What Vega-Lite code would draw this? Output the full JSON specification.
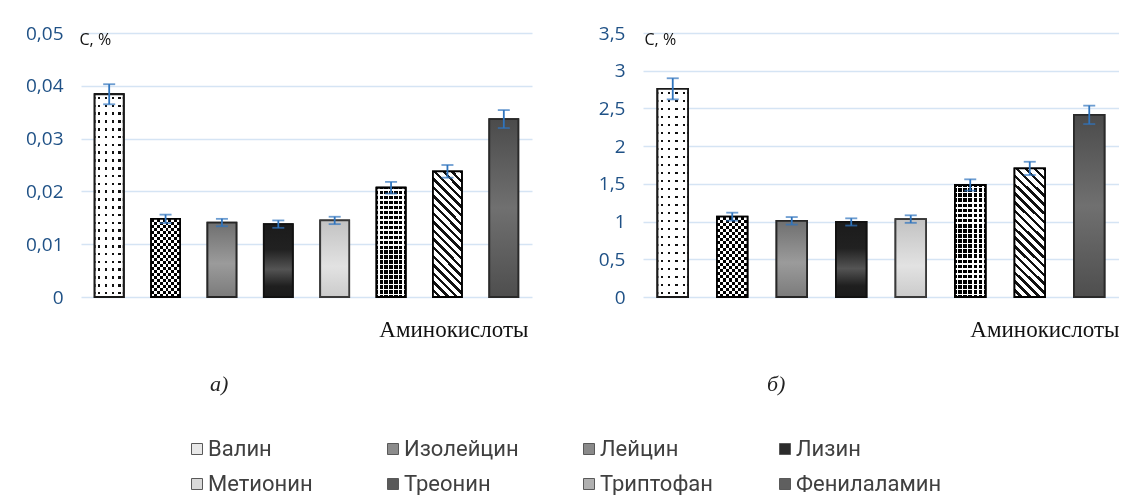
{
  "$schema": "https://vega.github.io/schema/vega-lite/v6.json",
  "background": "white",
  "padding": {"left": 25, "top": 24, "right": 0, "bottom": 0},
  "spacing": 66,
  "datasets": {
    "fat": [
      {"amino": "Валин", "value": 0.0384, "err": 0.0019},
      {"amino": "Изолейцин", "value": 0.0148, "err": 0.0008},
      {"amino": "Лейцин", "value": 0.0141, "err": 0.0007},
      {"amino": "Лизин", "value": 0.0138, "err": 0.0007},
      {"amino": "Метионин", "value": 0.0145, "err": 0.0007},
      {"amino": "Треонин", "value": 0.0207, "err": 0.0011},
      {"amino": "Триптофан", "value": 0.0238, "err": 0.0012},
      {"amino": "Фенилаламин", "value": 0.0337, "err": 0.0017}
    ],
    "protein": [
      {"amino": "Валин", "value": 2.76, "err": 0.14},
      {"amino": "Изолейцин", "value": 1.065, "err": 0.053},
      {"amino": "Лейцин", "value": 1.01, "err": 0.05},
      {"amino": "Лизин", "value": 0.995, "err": 0.048},
      {"amino": "Метионин", "value": 1.033, "err": 0.05},
      {"amino": "Треонин", "value": 1.485, "err": 0.075},
      {"amino": "Триптофан", "value": 1.705, "err": 0.088},
      {"amino": "Фенилаламин", "value": 2.415, "err": 0.122}
    ]
  },
  "config": {"view": {"stroke": null}},
  "resolve": {"scale": {"fill": "shared"}},
  "hconcat": [
    {
      "width": 451,
      "height": 264,
      "data": {"name": "fat"},
      "title": {"text": "а)", "orient": "bottom", "anchor": "start", "frame": "group", "dx": 129, "offset": 33, "font": "Liberation Serif", "fontStyle": "italic", "fontWeight": "normal", "fontSize": 22, "color": "#222222"},
      "encoding": {
        "x": {"field": "amino", "type": "nominal", "sort": null,
              "scale": {"domain": ["Валин", "Изолейцин", "Лейцин", "Лизин", "Метионин", "Треонин", "Триптофан", "Фенилаламин"], "paddingInner": 0.486, "paddingOuter": 0.243},
              "axis": {"labels": false, "ticks": false, "domain": false, "title": "Аминокислоты", "titleFont": "Liberation Serif", "titleFontSize": 23, "titleFontWeight": "normal", "titleColor": "#111111", "titleAlign": "right", "titleBaseline": "alphabetic", "titleX": 447, "titleY": 39}},
        "y": {"field": "value", "type": "quantitative",
              "scale": {"domain": [0, 0.05], "nice": false},
              "axis": {"values": [0, 0.01, 0.02, 0.03, 0.04, 0.05], "labelExpr": "replace(toString(datum.value), '.', ',')", "labelFont": "Open Sans", "labelFontSize": 19, "labelColor": "#1f5186", "labelPadding": 18, "ticks": false, "domain": false, "grid": true, "gridColor": "#d5e4f4", "gridWidth": 1.6, "title": "C, %", "titleAngle": 0, "titleX": -2, "titleY": 6, "titleAlign": "left", "titleBaseline": "middle", "titleFont": "Open Sans", "titleFontSize": 16, "titleFontWeight": "normal", "titleColor": "#111111"}}
      },
      "layer": [
        {
          "mark": {"type": "bar", "stroke": "#1a1a1a", "strokeWidth": 1.8},
          "encoding": {
            "fill": {"field": "amino", "type": "nominal",
              "scale": {"domain": ["Валин", "Изолейцин", "Лейцин", "Лизин", "Метионин", "Треонин", "Триптофан", "Фенилаламин"],
                        "range": ["#e8e8e8", "#8c8c8c", "#8a8a8a", "#2b2b2b", "#d9d9d9", "#5a5a5a", "#b0b0b0", "#5f5f5f"]},
              "legend": {"orient": "none", "legendX": 105, "legendY": 405, "direction": "horizontal", "columns": 4, "gridAlign": "all", "columnPadding": 28, "rowPadding": 13, "title": null, "padding": 0,
                         "symbolType": "square", "symbolSize": 121, "symbolStrokeColor": "#595959", "symbolStrokeWidth": 1,
                         "labelFont": "Roboto", "labelFontSize": 22, "labelColor": "#404040", "labelOffset": 0, "labelLimit": 300}}
          }
        },
        {
          "transform": [{"filter": "datum.amino === 'Валин'"}],
          "mark": {"type": "bar", "stroke": "#1a1a1a", "strokeWidth": 1.8,
                   "fill": {"gradient": "linear", "x1": 0, "y1": 0, "x2": 1, "y2": 0, "stops": [
                    {"offset": 0.1, "color": "#ffffff"}, {"offset": 0.1, "color": "#111111"}, {"offset": 0.18, "color": "#111111"}, {"offset": 0.18, "color": "#ffffff"},
                    {"offset": 0.34, "color": "#ffffff"}, {"offset": 0.34, "color": "#111111"}, {"offset": 0.42, "color": "#111111"}, {"offset": 0.42, "color": "#ffffff"},
                    {"offset": 0.58, "color": "#ffffff"}, {"offset": 0.58, "color": "#111111"}, {"offset": 0.66, "color": "#111111"}, {"offset": 0.66, "color": "#ffffff"},
                    {"offset": 0.82, "color": "#ffffff"}, {"offset": 0.82, "color": "#111111"}, {"offset": 0.9, "color": "#111111"}, {"offset": 0.9, "color": "#ffffff"}]}}
        },
        {
          "transform": [{"filter": "datum.amino === 'Валин'"}],
          "mark": {"type": "bar", "stroke": "#1a1a1a", "strokeWidth": 1.8,
                   "fill": {"gradient": "linear", "x1": 0, "y1": 0, "x2": 0, "y2": 1, "stops": [
                     {"offset": 0.0131, "color": "#ffffff"}, {"offset": 0.0131, "color": "rgba(255,255,255,0)"}, {"offset": 0.0254, "color": "rgba(255,255,255,0)"}, {"offset": 0.0254, "color": "#ffffff"},
                     {"offset": 0.0515, "color": "#ffffff"}, {"offset": 0.0515, "color": "rgba(255,255,255,0)"}, {"offset": 0.0638, "color": "rgba(255,255,255,0)"}, {"offset": 0.0638, "color": "#ffffff"},
                     {"offset": 0.09, "color": "#ffffff"}, {"offset": 0.09, "color": "rgba(255,255,255,0)"}, {"offset": 0.1023, "color": "rgba(255,255,255,0)"}, {"offset": 0.1023, "color": "#ffffff"},
                     {"offset": 0.1285, "color": "#ffffff"}, {"offset": 0.1285, "color": "rgba(255,255,255,0)"}, {"offset": 0.1408, "color": "rgba(255,255,255,0)"}, {"offset": 0.1408, "color": "#ffffff"},
                     {"offset": 0.1669, "color": "#ffffff"}, {"offset": 0.1669, "color": "rgba(255,255,255,0)"}, {"offset": 0.1792, "color": "rgba(255,255,255,0)"}, {"offset": 0.1792, "color": "#ffffff"},
                     {"offset": 0.2054, "color": "#ffffff"}, {"offset": 0.2054, "color": "rgba(255,255,255,0)"}, {"offset": 0.2177, "color": "rgba(255,255,255,0)"}, {"offset": 0.2177, "color": "#ffffff"},
                     {"offset": 0.2438, "color": "#ffffff"}, {"offset": 0.2438, "color": "rgba(255,255,255,0)"}, {"offset": 0.2562, "color": "rgba(255,255,255,0)"}, {"offset": 0.2562, "color": "#ffffff"},
                     {"offset": 0.2823, "color": "#ffffff"}, {"offset": 0.2823, "color": "rgba(255,255,255,0)"}, {"offset": 0.2946, "color": "rgba(255,255,255,0)"}, {"offset": 0.2946, "color": "#ffffff"},
                     {"offset": 0.3208, "color": "#ffffff"}, {"offset": 0.3208, "color": "rgba(255,255,255,0)"}, {"offset": 0.3331, "color": "rgba(255,255,255,0)"}, {"offset": 0.3331, "color": "#ffffff"},
                     {"offset": 0.3592, "color": "#ffffff"}, {"offset": 0.3592, "color": "rgba(255,255,255,0)"}, {"offset": 0.3715, "color": "rgba(255,255,255,0)"}, {"offset": 0.3715, "color": "#ffffff"},
                     {"offset": 0.3977, "color": "#ffffff"}, {"offset": 0.3977, "color": "rgba(255,255,255,0)"}, {"offset": 0.41, "color": "rgba(255,255,255,0)"}, {"offset": 0.41, "color": "#ffffff"},
                     {"offset": 0.4362, "color": "#ffffff"}, {"offset": 0.4362, "color": "rgba(255,255,255,0)"}, {"offset": 0.4485, "color": "rgba(255,255,255,0)"}, {"offset": 0.4485, "color": "#ffffff"},
                     {"offset": 0.4746, "color": "#ffffff"}, {"offset": 0.4746, "color": "rgba(255,255,255,0)"}, {"offset": 0.4869, "color": "rgba(255,255,255,0)"}, {"offset": 0.4869, "color": "#ffffff"},
                     {"offset": 0.5131, "color": "#ffffff"}, {"offset": 0.5131, "color": "rgba(255,255,255,0)"}, {"offset": 0.5254, "color": "rgba(255,255,255,0)"}, {"offset": 0.5254, "color": "#ffffff"},
                     {"offset": 0.5515, "color": "#ffffff"}, {"offset": 0.5515, "color": "rgba(255,255,255,0)"}, {"offset": 0.5638, "color": "rgba(255,255,255,0)"}, {"offset": 0.5638, "color": "#ffffff"},
                     {"offset": 0.59, "color": "#ffffff"}, {"offset": 0.59, "color": "rgba(255,255,255,0)"}, {"offset": 0.6023, "color": "rgba(255,255,255,0)"}, {"offset": 0.6023, "color": "#ffffff"},
                     {"offset": 0.6285, "color": "#ffffff"}, {"offset": 0.6285, "color": "rgba(255,255,255,0)"}, {"offset": 0.6408, "color": "rgba(255,255,255,0)"}, {"offset": 0.6408, "color": "#ffffff"},
                     {"offset": 0.6669, "color": "#ffffff"}, {"offset": 0.6669, "color": "rgba(255,255,255,0)"}, {"offset": 0.6792, "color": "rgba(255,255,255,0)"}, {"offset": 0.6792, "color": "#ffffff"},
                     {"offset": 0.7054, "color": "#ffffff"}, {"offset": 0.7054, "color": "rgba(255,255,255,0)"}, {"offset": 0.7177, "color": "rgba(255,255,255,0)"}, {"offset": 0.7177, "color": "#ffffff"},
                     {"offset": 0.7438, "color": "#ffffff"}, {"offset": 0.7438, "color": "rgba(255,255,255,0)"}, {"offset": 0.7562, "color": "rgba(255,255,255,0)"}, {"offset": 0.7562, "color": "#ffffff"},
                     {"offset": 0.7823, "color": "#ffffff"}, {"offset": 0.7823, "color": "rgba(255,255,255,0)"}, {"offset": 0.7946, "color": "rgba(255,255,255,0)"}, {"offset": 0.7946, "color": "#ffffff"},
                     {"offset": 0.8208, "color": "#ffffff"}, {"offset": 0.8208, "color": "rgba(255,255,255,0)"}, {"offset": 0.8331, "color": "rgba(255,255,255,0)"}, {"offset": 0.8331, "color": "#ffffff"},
                     {"offset": 0.8592, "color": "#ffffff"}, {"offset": 0.8592, "color": "rgba(255,255,255,0)"}, {"offset": 0.8715, "color": "rgba(255,255,255,0)"}, {"offset": 0.8715, "color": "#ffffff"},
                     {"offset": 0.8977, "color": "#ffffff"}, {"offset": 0.8977, "color": "rgba(255,255,255,0)"}, {"offset": 0.91, "color": "rgba(255,255,255,0)"}, {"offset": 0.91, "color": "#ffffff"},
                     {"offset": 0.9362, "color": "#ffffff"}, {"offset": 0.9362, "color": "rgba(255,255,255,0)"}, {"offset": 0.9485, "color": "rgba(255,255,255,0)"}, {"offset": 0.9485, "color": "#ffffff"},
                     {"offset": 0.9746, "color": "#ffffff"}, {"offset": 0.9746, "color": "rgba(255,255,255,0)"}, {"offset": 0.9869, "color": "rgba(255,255,255,0)"}, {"offset": 0.9869, "color": "#ffffff"}]}}
        },
        {
          "transform": [{"filter": "datum.amino === 'Изолейцин'"}],
          "mark": {"type": "bar", "stroke": "#000000", "strokeWidth": 1.8,
                   "fill": {"gradient": "linear", "x1": 0, "y1": 0, "x2": 1, "y2": 0, "stops": [
                    {"offset": 0.1, "color": "#ffffff"}, {"offset": 0.1, "color": "#000000"}, {"offset": 0.2, "color": "#000000"}, {"offset": 0.2, "color": "#ffffff"},
                    {"offset": 0.3, "color": "#ffffff"}, {"offset": 0.3, "color": "#000000"}, {"offset": 0.4, "color": "#000000"}, {"offset": 0.4, "color": "#ffffff"},
                    {"offset": 0.5, "color": "#ffffff"}, {"offset": 0.5, "color": "#000000"}, {"offset": 0.6, "color": "#000000"}, {"offset": 0.6, "color": "#ffffff"},
                    {"offset": 0.7, "color": "#ffffff"}, {"offset": 0.7, "color": "#000000"}, {"offset": 0.8, "color": "#000000"}, {"offset": 0.8, "color": "#ffffff"},
                    {"offset": 0.9, "color": "#ffffff"}, {"offset": 0.9, "color": "#000000"}]}}
        },
        {
          "transform": [{"filter": "datum.amino === 'Изолейцин'"}],
          "mark": {"type": "bar", "stroke": "#000000", "strokeWidth": 1.8, "blend": "difference",
                   "fill": {"gradient": "linear", "x1": 0, "y1": 0, "x2": 0, "y2": 1, "stops": [
                     {"offset": 0.0385, "color": "#ffffff"}, {"offset": 0.0385, "color": "#000000"}, {"offset": 0.0769, "color": "#000000"}, {"offset": 0.0769, "color": "#ffffff"},
                     {"offset": 0.1154, "color": "#ffffff"}, {"offset": 0.1154, "color": "#000000"}, {"offset": 0.1538, "color": "#000000"}, {"offset": 0.1538, "color": "#ffffff"},
                     {"offset": 0.1923, "color": "#ffffff"}, {"offset": 0.1923, "color": "#000000"}, {"offset": 0.2308, "color": "#000000"}, {"offset": 0.2308, "color": "#ffffff"},
                     {"offset": 0.2692, "color": "#ffffff"}, {"offset": 0.2692, "color": "#000000"}, {"offset": 0.3077, "color": "#000000"}, {"offset": 0.3077, "color": "#ffffff"},
                     {"offset": 0.3462, "color": "#ffffff"}, {"offset": 0.3462, "color": "#000000"}, {"offset": 0.3846, "color": "#000000"}, {"offset": 0.3846, "color": "#ffffff"},
                     {"offset": 0.4231, "color": "#ffffff"}, {"offset": 0.4231, "color": "#000000"}, {"offset": 0.4615, "color": "#000000"}, {"offset": 0.4615, "color": "#ffffff"},
                     {"offset": 0.5, "color": "#ffffff"}, {"offset": 0.5, "color": "#000000"}, {"offset": 0.5385, "color": "#000000"}, {"offset": 0.5385, "color": "#ffffff"},
                     {"offset": 0.5769, "color": "#ffffff"}, {"offset": 0.5769, "color": "#000000"}, {"offset": 0.6154, "color": "#000000"}, {"offset": 0.6154, "color": "#ffffff"},
                     {"offset": 0.6538, "color": "#ffffff"}, {"offset": 0.6538, "color": "#000000"}, {"offset": 0.6923, "color": "#000000"}, {"offset": 0.6923, "color": "#ffffff"},
                     {"offset": 0.7308, "color": "#ffffff"}, {"offset": 0.7308, "color": "#000000"}, {"offset": 0.7692, "color": "#000000"}, {"offset": 0.7692, "color": "#ffffff"},
                     {"offset": 0.8077, "color": "#ffffff"}, {"offset": 0.8077, "color": "#000000"}, {"offset": 0.8462, "color": "#000000"}, {"offset": 0.8462, "color": "#ffffff"},
                     {"offset": 0.8846, "color": "#ffffff"}, {"offset": 0.8846, "color": "#000000"}, {"offset": 0.9231, "color": "#000000"}, {"offset": 0.9231, "color": "#ffffff"},
                     {"offset": 0.9615, "color": "#ffffff"}, {"offset": 0.9615, "color": "#000000"}]}}
        },
        {
          "transform": [{"filter": "datum.amino === 'Лейцин'"}],
          "mark": {"type": "bar", "stroke": "#262626", "strokeWidth": 1.8,
                   "fill": {"gradient": "linear", "x1": 0, "y1": 0, "x2": 0, "y2": 1, "stops": [
                    {"offset": 0, "color": "#6f6f6f"}, {"offset": 0.55, "color": "#9b9b9b"}, {"offset": 1, "color": "#7b7b7b"}]}}
        },
        {
          "transform": [{"filter": "datum.amino === 'Лизин'"}],
          "mark": {"type": "bar", "stroke": "#111111", "strokeWidth": 1.8,
                   "fill": {"gradient": "linear", "x1": 0, "y1": 0, "x2": 0, "y2": 1, "stops": [
                    {"offset": 0, "color": "#1b1b1b"}, {"offset": 0.35, "color": "#212121"}, {"offset": 0.62, "color": "#545454"}, {"offset": 0.85, "color": "#1f1f1f"}, {"offset": 1, "color": "#1b1b1b"}]}}
        },
        {
          "transform": [{"filter": "datum.amino === 'Метионин'"}],
          "mark": {"type": "bar", "stroke": "#3a3a3a", "strokeWidth": 1.8,
                   "fill": {"gradient": "linear", "x1": 0, "y1": 0, "x2": 0, "y2": 1, "stops": [
                    {"offset": 0, "color": "#c2c2c2"}, {"offset": 0.6, "color": "#e2e2e2"}, {"offset": 1, "color": "#cbcbcb"}]}}
        },
        {
          "transform": [{"filter": "datum.amino === 'Треонин'"}],
          "mark": {"type": "bar", "stroke": "#000000", "strokeWidth": 1.8,
                   "fill": {"gradient": "linear", "x1": 0, "y1": 0, "x2": 1, "y2": 0, "stops": [
                    {"offset": 0.06, "color": "#000000"}, {"offset": 0.06, "color": "#ffffff"}, {"offset": 0.1067, "color": "#ffffff"}, {"offset": 0.1067, "color": "#000000"},
                    {"offset": 0.2267, "color": "#000000"}, {"offset": 0.2267, "color": "#ffffff"}, {"offset": 0.2733, "color": "#ffffff"}, {"offset": 0.2733, "color": "#000000"},
                    {"offset": 0.3933, "color": "#000000"}, {"offset": 0.3933, "color": "#ffffff"}, {"offset": 0.44, "color": "#ffffff"}, {"offset": 0.44, "color": "#000000"},
                    {"offset": 0.56, "color": "#000000"}, {"offset": 0.56, "color": "#ffffff"}, {"offset": 0.6067, "color": "#ffffff"}, {"offset": 0.6067, "color": "#000000"},
                    {"offset": 0.7267, "color": "#000000"}, {"offset": 0.7267, "color": "#ffffff"}, {"offset": 0.7733, "color": "#ffffff"}, {"offset": 0.7733, "color": "#000000"},
                    {"offset": 0.8933, "color": "#000000"}, {"offset": 0.8933, "color": "#ffffff"}, {"offset": 0.94, "color": "#ffffff"}, {"offset": 0.94, "color": "#000000"}]}}
        },
        {
          "transform": [{"filter": "datum.amino === 'Треонин'"}],
          "mark": {"type": "bar", "stroke": "#000000", "strokeWidth": 1.8,
                   "fill": {"gradient": "linear", "x1": 0, "y1": 0, "x2": 0, "y2": 1, "stops": [
                     {"offset": 0.0164, "color": "rgba(255,255,255,0)"}, {"offset": 0.0164, "color": "#ffffff"}, {"offset": 0.0291, "color": "#ffffff"}, {"offset": 0.0291, "color": "rgba(255,255,255,0)"},
                     {"offset": 0.0618, "color": "rgba(255,255,255,0)"}, {"offset": 0.0618, "color": "#ffffff"}, {"offset": 0.0745, "color": "#ffffff"}, {"offset": 0.0745, "color": "rgba(255,255,255,0)"},
                     {"offset": 0.1073, "color": "rgba(255,255,255,0)"}, {"offset": 0.1073, "color": "#ffffff"}, {"offset": 0.12, "color": "#ffffff"}, {"offset": 0.12, "color": "rgba(255,255,255,0)"},
                     {"offset": 0.1527, "color": "rgba(255,255,255,0)"}, {"offset": 0.1527, "color": "#ffffff"}, {"offset": 0.1655, "color": "#ffffff"}, {"offset": 0.1655, "color": "rgba(255,255,255,0)"},
                     {"offset": 0.1982, "color": "rgba(255,255,255,0)"}, {"offset": 0.1982, "color": "#ffffff"}, {"offset": 0.2109, "color": "#ffffff"}, {"offset": 0.2109, "color": "rgba(255,255,255,0)"},
                     {"offset": 0.2436, "color": "rgba(255,255,255,0)"}, {"offset": 0.2436, "color": "#ffffff"}, {"offset": 0.2564, "color": "#ffffff"}, {"offset": 0.2564, "color": "rgba(255,255,255,0)"},
                     {"offset": 0.2891, "color": "rgba(255,255,255,0)"}, {"offset": 0.2891, "color": "#ffffff"}, {"offset": 0.3018, "color": "#ffffff"}, {"offset": 0.3018, "color": "rgba(255,255,255,0)"},
                     {"offset": 0.3345, "color": "rgba(255,255,255,0)"}, {"offset": 0.3345, "color": "#ffffff"}, {"offset": 0.3473, "color": "#ffffff"}, {"offset": 0.3473, "color": "rgba(255,255,255,0)"},
                     {"offset": 0.38, "color": "rgba(255,255,255,0)"}, {"offset": 0.38, "color": "#ffffff"}, {"offset": 0.3927, "color": "#ffffff"}, {"offset": 0.3927, "color": "rgba(255,255,255,0)"},
                     {"offset": 0.4255, "color": "rgba(255,255,255,0)"}, {"offset": 0.4255, "color": "#ffffff"}, {"offset": 0.4382, "color": "#ffffff"}, {"offset": 0.4382, "color": "rgba(255,255,255,0)"},
                     {"offset": 0.4709, "color": "rgba(255,255,255,0)"}, {"offset": 0.4709, "color": "#ffffff"}, {"offset": 0.4836, "color": "#ffffff"}, {"offset": 0.4836, "color": "rgba(255,255,255,0)"},
                     {"offset": 0.5164, "color": "rgba(255,255,255,0)"}, {"offset": 0.5164, "color": "#ffffff"}, {"offset": 0.5291, "color": "#ffffff"}, {"offset": 0.5291, "color": "rgba(255,255,255,0)"},
                     {"offset": 0.5618, "color": "rgba(255,255,255,0)"}, {"offset": 0.5618, "color": "#ffffff"}, {"offset": 0.5745, "color": "#ffffff"}, {"offset": 0.5745, "color": "rgba(255,255,255,0)"},
                     {"offset": 0.6073, "color": "rgba(255,255,255,0)"}, {"offset": 0.6073, "color": "#ffffff"}, {"offset": 0.62, "color": "#ffffff"}, {"offset": 0.62, "color": "rgba(255,255,255,0)"},
                     {"offset": 0.6527, "color": "rgba(255,255,255,0)"}, {"offset": 0.6527, "color": "#ffffff"}, {"offset": 0.6655, "color": "#ffffff"}, {"offset": 0.6655, "color": "rgba(255,255,255,0)"},
                     {"offset": 0.6982, "color": "rgba(255,255,255,0)"}, {"offset": 0.6982, "color": "#ffffff"}, {"offset": 0.7109, "color": "#ffffff"}, {"offset": 0.7109, "color": "rgba(255,255,255,0)"},
                     {"offset": 0.7436, "color": "rgba(255,255,255,0)"}, {"offset": 0.7436, "color": "#ffffff"}, {"offset": 0.7564, "color": "#ffffff"}, {"offset": 0.7564, "color": "rgba(255,255,255,0)"},
                     {"offset": 0.7891, "color": "rgba(255,255,255,0)"}, {"offset": 0.7891, "color": "#ffffff"}, {"offset": 0.8018, "color": "#ffffff"}, {"offset": 0.8018, "color": "rgba(255,255,255,0)"},
                     {"offset": 0.8345, "color": "rgba(255,255,255,0)"}, {"offset": 0.8345, "color": "#ffffff"}, {"offset": 0.8473, "color": "#ffffff"}, {"offset": 0.8473, "color": "rgba(255,255,255,0)"},
                     {"offset": 0.88, "color": "rgba(255,255,255,0)"}, {"offset": 0.88, "color": "#ffffff"}, {"offset": 0.8927, "color": "#ffffff"}, {"offset": 0.8927, "color": "rgba(255,255,255,0)"},
                     {"offset": 0.9255, "color": "rgba(255,255,255,0)"}, {"offset": 0.9255, "color": "#ffffff"}, {"offset": 0.9382, "color": "#ffffff"}, {"offset": 0.9382, "color": "rgba(255,255,255,0)"},
                     {"offset": 0.9709, "color": "rgba(255,255,255,0)"}, {"offset": 0.9709, "color": "#ffffff"}, {"offset": 0.9836, "color": "#ffffff"}, {"offset": 0.9836, "color": "rgba(255,255,255,0)"}]}}
        },
        {
          "transform": [{"filter": "datum.amino === 'Триптофан'"}],
          "mark": {"type": "bar", "stroke": "#000000", "strokeWidth": 1.8,
                   "fill": {"gradient": "linear", "x1": 0, "y1": 1, "x2": 0.2716, "y2": -0.169, "stops": [
                    {"offset": 0.0333, "color": "#ffffff"}, {"offset": 0.0333, "color": "#111111"}, {"offset": 0.0556, "color": "#111111"}, {"offset": 0.0556, "color": "#ffffff"},
                    {"offset": 0.0889, "color": "#ffffff"}, {"offset": 0.0889, "color": "#111111"}, {"offset": 0.1111, "color": "#111111"}, {"offset": 0.1111, "color": "#ffffff"},
                    {"offset": 0.1444, "color": "#ffffff"}, {"offset": 0.1444, "color": "#111111"}, {"offset": 0.1667, "color": "#111111"}, {"offset": 0.1667, "color": "#ffffff"},
                    {"offset": 0.2, "color": "#ffffff"}, {"offset": 0.2, "color": "#111111"}, {"offset": 0.2222, "color": "#111111"}, {"offset": 0.2222, "color": "#ffffff"},
                    {"offset": 0.2556, "color": "#ffffff"}, {"offset": 0.2556, "color": "#111111"}, {"offset": 0.2778, "color": "#111111"}, {"offset": 0.2778, "color": "#ffffff"},
                    {"offset": 0.3111, "color": "#ffffff"}, {"offset": 0.3111, "color": "#111111"}, {"offset": 0.3333, "color": "#111111"}, {"offset": 0.3333, "color": "#ffffff"},
                    {"offset": 0.3667, "color": "#ffffff"}, {"offset": 0.3667, "color": "#111111"}, {"offset": 0.3889, "color": "#111111"}, {"offset": 0.3889, "color": "#ffffff"},
                    {"offset": 0.4222, "color": "#ffffff"}, {"offset": 0.4222, "color": "#111111"}, {"offset": 0.4444, "color": "#111111"}, {"offset": 0.4444, "color": "#ffffff"},
                    {"offset": 0.4778, "color": "#ffffff"}, {"offset": 0.4778, "color": "#111111"}, {"offset": 0.5, "color": "#111111"}, {"offset": 0.5, "color": "#ffffff"},
                    {"offset": 0.5333, "color": "#ffffff"}, {"offset": 0.5333, "color": "#111111"}, {"offset": 0.5556, "color": "#111111"}, {"offset": 0.5556, "color": "#ffffff"},
                    {"offset": 0.5889, "color": "#ffffff"}, {"offset": 0.5889, "color": "#111111"}, {"offset": 0.6111, "color": "#111111"}, {"offset": 0.6111, "color": "#ffffff"},
                    {"offset": 0.6444, "color": "#ffffff"}, {"offset": 0.6444, "color": "#111111"}, {"offset": 0.6667, "color": "#111111"}, {"offset": 0.6667, "color": "#ffffff"},
                    {"offset": 0.7, "color": "#ffffff"}, {"offset": 0.7, "color": "#111111"}, {"offset": 0.7222, "color": "#111111"}, {"offset": 0.7222, "color": "#ffffff"},
                    {"offset": 0.7556, "color": "#ffffff"}, {"offset": 0.7556, "color": "#111111"}, {"offset": 0.7778, "color": "#111111"}, {"offset": 0.7778, "color": "#ffffff"},
                    {"offset": 0.8111, "color": "#ffffff"}, {"offset": 0.8111, "color": "#111111"}, {"offset": 0.8333, "color": "#111111"}, {"offset": 0.8333, "color": "#ffffff"},
                    {"offset": 0.8667, "color": "#ffffff"}, {"offset": 0.8667, "color": "#111111"}, {"offset": 0.8889, "color": "#111111"}, {"offset": 0.8889, "color": "#ffffff"},
                    {"offset": 0.9222, "color": "#ffffff"}, {"offset": 0.9222, "color": "#111111"}, {"offset": 0.9444, "color": "#111111"}, {"offset": 0.9444, "color": "#ffffff"},
                    {"offset": 0.9778, "color": "#ffffff"}, {"offset": 0.9778, "color": "#111111"}, {"offset": 1, "color": "#111111"}]}}
        },
        {
          "transform": [{"filter": "datum.amino === 'Фенилаламин'"}],
          "mark": {"type": "bar", "stroke": "#2a2a2a", "strokeWidth": 1.8,
                   "fill": {"gradient": "linear", "x1": 0, "y1": 0, "x2": 0, "y2": 1, "stops": [
                    {"offset": 0, "color": "#4b4b4b"}, {"offset": 0.5, "color": "#707070"}, {"offset": 1, "color": "#4e4e4e"}]}}
        },
        {
          "mark": {"type": "errorbar", "ticks": {"size": 12, "thickness": 1.8, "color": "#2f74bd"}, "rule": {"strokeWidth": 1.8, "color": "#2f74bd"}},
          "encoding": {"yError": {"field": "err"}}
        }
      ]
    },
    {
      "width": 476,
      "height": 264,
      "data": {"name": "protein"},
      "title": {"text": "б)", "orient": "bottom", "anchor": "start", "frame": "group", "dx": 124, "offset": 33, "font": "Liberation Serif", "fontStyle": "italic", "fontWeight": "normal", "fontSize": 22, "color": "#222222"},
      "encoding": {
        "x": {"field": "amino", "type": "nominal", "sort": null,
              "scale": {"domain": ["Валин", "Изолейцин", "Лейцин", "Лизин", "Метионин", "Треонин", "Триптофан", "Фенилаламин"], "paddingInner": 0.487, "paddingOuter": 0.2435},
              "axis": {"labels": false, "ticks": false, "domain": false, "title": "Аминокислоты", "titleFont": "Liberation Serif", "titleFontSize": 23, "titleFontWeight": "normal", "titleColor": "#111111", "titleAlign": "right", "titleBaseline": "alphabetic", "titleX": 476, "titleY": 39}},
        "y": {"field": "value", "type": "quantitative",
              "scale": {"domain": [0, 3.5], "nice": false},
              "axis": {"values": [0, 0.5, 1, 1.5, 2, 2.5, 3, 3.5], "labelExpr": "replace(toString(datum.value), '.', ',')", "labelFont": "Open Sans", "labelFontSize": 19, "labelColor": "#1f5186", "labelPadding": 18, "ticks": false, "domain": false, "grid": true, "gridColor": "#d5e4f4", "gridWidth": 1.6, "title": "C, %", "titleAngle": 0, "titleX": 1, "titleY": 6, "titleAlign": "left", "titleBaseline": "middle", "titleFont": "Open Sans", "titleFontSize": 16, "titleFontWeight": "normal", "titleColor": "#111111"}}
      },
      "layer": [
        {
          "mark": {"type": "bar", "stroke": "#1a1a1a", "strokeWidth": 1.8},
          "encoding": {
            "fill": {"field": "amino", "type": "nominal",
              "legend": {"orient": "none", "legendX": 105, "legendY": 405, "direction": "horizontal", "columns": 4, "gridAlign": "all", "columnPadding": 28, "rowPadding": 13, "title": null, "padding": 0,
                         "symbolType": "square", "symbolSize": 121, "symbolStrokeColor": "#595959", "symbolStrokeWidth": 1,
                         "labelFont": "Roboto", "labelFontSize": 22, "labelColor": "#404040", "labelOffset": 0, "labelLimit": 300}}
          }
        },
        {
          "transform": [{"filter": "datum.amino === 'Валин'"}],
          "mark": {"type": "bar", "stroke": "#1a1a1a", "strokeWidth": 1.8,
                   "fill": {"gradient": "linear", "x1": 0, "y1": 0, "x2": 1, "y2": 0, "stops": [
                    {"offset": 0.1, "color": "#ffffff"}, {"offset": 0.1, "color": "#111111"}, {"offset": 0.18, "color": "#111111"}, {"offset": 0.18, "color": "#ffffff"},
                    {"offset": 0.34, "color": "#ffffff"}, {"offset": 0.34, "color": "#111111"}, {"offset": 0.42, "color": "#111111"}, {"offset": 0.42, "color": "#ffffff"},
                    {"offset": 0.58, "color": "#ffffff"}, {"offset": 0.58, "color": "#111111"}, {"offset": 0.66, "color": "#111111"}, {"offset": 0.66, "color": "#ffffff"},
                    {"offset": 0.82, "color": "#ffffff"}, {"offset": 0.82, "color": "#111111"}, {"offset": 0.9, "color": "#111111"}, {"offset": 0.9, "color": "#ffffff"}]}}
        },
        {
          "transform": [{"filter": "datum.amino === 'Валин'"}],
          "mark": {"type": "bar", "stroke": "#1a1a1a", "strokeWidth": 1.8,
                   "fill": {"gradient": "linear", "x1": 0, "y1": 0, "x2": 0, "y2": 1, "stops": [
                     {"offset": 0.0131, "color": "#ffffff"}, {"offset": 0.0131, "color": "rgba(255,255,255,0)"}, {"offset": 0.0254, "color": "rgba(255,255,255,0)"}, {"offset": 0.0254, "color": "#ffffff"},
                     {"offset": 0.0515, "color": "#ffffff"}, {"offset": 0.0515, "color": "rgba(255,255,255,0)"}, {"offset": 0.0638, "color": "rgba(255,255,255,0)"}, {"offset": 0.0638, "color": "#ffffff"},
                     {"offset": 0.09, "color": "#ffffff"}, {"offset": 0.09, "color": "rgba(255,255,255,0)"}, {"offset": 0.1023, "color": "rgba(255,255,255,0)"}, {"offset": 0.1023, "color": "#ffffff"},
                     {"offset": 0.1285, "color": "#ffffff"}, {"offset": 0.1285, "color": "rgba(255,255,255,0)"}, {"offset": 0.1408, "color": "rgba(255,255,255,0)"}, {"offset": 0.1408, "color": "#ffffff"},
                     {"offset": 0.1669, "color": "#ffffff"}, {"offset": 0.1669, "color": "rgba(255,255,255,0)"}, {"offset": 0.1792, "color": "rgba(255,255,255,0)"}, {"offset": 0.1792, "color": "#ffffff"},
                     {"offset": 0.2054, "color": "#ffffff"}, {"offset": 0.2054, "color": "rgba(255,255,255,0)"}, {"offset": 0.2177, "color": "rgba(255,255,255,0)"}, {"offset": 0.2177, "color": "#ffffff"},
                     {"offset": 0.2438, "color": "#ffffff"}, {"offset": 0.2438, "color": "rgba(255,255,255,0)"}, {"offset": 0.2562, "color": "rgba(255,255,255,0)"}, {"offset": 0.2562, "color": "#ffffff"},
                     {"offset": 0.2823, "color": "#ffffff"}, {"offset": 0.2823, "color": "rgba(255,255,255,0)"}, {"offset": 0.2946, "color": "rgba(255,255,255,0)"}, {"offset": 0.2946, "color": "#ffffff"},
                     {"offset": 0.3208, "color": "#ffffff"}, {"offset": 0.3208, "color": "rgba(255,255,255,0)"}, {"offset": 0.3331, "color": "rgba(255,255,255,0)"}, {"offset": 0.3331, "color": "#ffffff"},
                     {"offset": 0.3592, "color": "#ffffff"}, {"offset": 0.3592, "color": "rgba(255,255,255,0)"}, {"offset": 0.3715, "color": "rgba(255,255,255,0)"}, {"offset": 0.3715, "color": "#ffffff"},
                     {"offset": 0.3977, "color": "#ffffff"}, {"offset": 0.3977, "color": "rgba(255,255,255,0)"}, {"offset": 0.41, "color": "rgba(255,255,255,0)"}, {"offset": 0.41, "color": "#ffffff"},
                     {"offset": 0.4362, "color": "#ffffff"}, {"offset": 0.4362, "color": "rgba(255,255,255,0)"}, {"offset": 0.4485, "color": "rgba(255,255,255,0)"}, {"offset": 0.4485, "color": "#ffffff"},
                     {"offset": 0.4746, "color": "#ffffff"}, {"offset": 0.4746, "color": "rgba(255,255,255,0)"}, {"offset": 0.4869, "color": "rgba(255,255,255,0)"}, {"offset": 0.4869, "color": "#ffffff"},
                     {"offset": 0.5131, "color": "#ffffff"}, {"offset": 0.5131, "color": "rgba(255,255,255,0)"}, {"offset": 0.5254, "color": "rgba(255,255,255,0)"}, {"offset": 0.5254, "color": "#ffffff"},
                     {"offset": 0.5515, "color": "#ffffff"}, {"offset": 0.5515, "color": "rgba(255,255,255,0)"}, {"offset": 0.5638, "color": "rgba(255,255,255,0)"}, {"offset": 0.5638, "color": "#ffffff"},
                     {"offset": 0.59, "color": "#ffffff"}, {"offset": 0.59, "color": "rgba(255,255,255,0)"}, {"offset": 0.6023, "color": "rgba(255,255,255,0)"}, {"offset": 0.6023, "color": "#ffffff"},
                     {"offset": 0.6285, "color": "#ffffff"}, {"offset": 0.6285, "color": "rgba(255,255,255,0)"}, {"offset": 0.6408, "color": "rgba(255,255,255,0)"}, {"offset": 0.6408, "color": "#ffffff"},
                     {"offset": 0.6669, "color": "#ffffff"}, {"offset": 0.6669, "color": "rgba(255,255,255,0)"}, {"offset": 0.6792, "color": "rgba(255,255,255,0)"}, {"offset": 0.6792, "color": "#ffffff"},
                     {"offset": 0.7054, "color": "#ffffff"}, {"offset": 0.7054, "color": "rgba(255,255,255,0)"}, {"offset": 0.7177, "color": "rgba(255,255,255,0)"}, {"offset": 0.7177, "color": "#ffffff"},
                     {"offset": 0.7438, "color": "#ffffff"}, {"offset": 0.7438, "color": "rgba(255,255,255,0)"}, {"offset": 0.7562, "color": "rgba(255,255,255,0)"}, {"offset": 0.7562, "color": "#ffffff"},
                     {"offset": 0.7823, "color": "#ffffff"}, {"offset": 0.7823, "color": "rgba(255,255,255,0)"}, {"offset": 0.7946, "color": "rgba(255,255,255,0)"}, {"offset": 0.7946, "color": "#ffffff"},
                     {"offset": 0.8208, "color": "#ffffff"}, {"offset": 0.8208, "color": "rgba(255,255,255,0)"}, {"offset": 0.8331, "color": "rgba(255,255,255,0)"}, {"offset": 0.8331, "color": "#ffffff"},
                     {"offset": 0.8592, "color": "#ffffff"}, {"offset": 0.8592, "color": "rgba(255,255,255,0)"}, {"offset": 0.8715, "color": "rgba(255,255,255,0)"}, {"offset": 0.8715, "color": "#ffffff"},
                     {"offset": 0.8977, "color": "#ffffff"}, {"offset": 0.8977, "color": "rgba(255,255,255,0)"}, {"offset": 0.91, "color": "rgba(255,255,255,0)"}, {"offset": 0.91, "color": "#ffffff"},
                     {"offset": 0.9362, "color": "#ffffff"}, {"offset": 0.9362, "color": "rgba(255,255,255,0)"}, {"offset": 0.9485, "color": "rgba(255,255,255,0)"}, {"offset": 0.9485, "color": "#ffffff"},
                     {"offset": 0.9746, "color": "#ffffff"}, {"offset": 0.9746, "color": "rgba(255,255,255,0)"}, {"offset": 0.9869, "color": "rgba(255,255,255,0)"}, {"offset": 0.9869, "color": "#ffffff"}]}}
        },
        {
          "transform": [{"filter": "datum.amino === 'Изолейцин'"}],
          "mark": {"type": "bar", "stroke": "#000000", "strokeWidth": 1.8,
                   "fill": {"gradient": "linear", "x1": 0, "y1": 0, "x2": 1, "y2": 0, "stops": [
                    {"offset": 0.1, "color": "#ffffff"}, {"offset": 0.1, "color": "#000000"}, {"offset": 0.2, "color": "#000000"}, {"offset": 0.2, "color": "#ffffff"},
                    {"offset": 0.3, "color": "#ffffff"}, {"offset": 0.3, "color": "#000000"}, {"offset": 0.4, "color": "#000000"}, {"offset": 0.4, "color": "#ffffff"},
                    {"offset": 0.5, "color": "#ffffff"}, {"offset": 0.5, "color": "#000000"}, {"offset": 0.6, "color": "#000000"}, {"offset": 0.6, "color": "#ffffff"},
                    {"offset": 0.7, "color": "#ffffff"}, {"offset": 0.7, "color": "#000000"}, {"offset": 0.8, "color": "#000000"}, {"offset": 0.8, "color": "#ffffff"},
                    {"offset": 0.9, "color": "#ffffff"}, {"offset": 0.9, "color": "#000000"}]}}
        },
        {
          "transform": [{"filter": "datum.amino === 'Изолейцин'"}],
          "mark": {"type": "bar", "stroke": "#000000", "strokeWidth": 1.8, "blend": "difference",
                   "fill": {"gradient": "linear", "x1": 0, "y1": 0, "x2": 0, "y2": 1, "stops": [
                     {"offset": 0.0385, "color": "#ffffff"}, {"offset": 0.0385, "color": "#000000"}, {"offset": 0.0769, "color": "#000000"}, {"offset": 0.0769, "color": "#ffffff"},
                     {"offset": 0.1154, "color": "#ffffff"}, {"offset": 0.1154, "color": "#000000"}, {"offset": 0.1538, "color": "#000000"}, {"offset": 0.1538, "color": "#ffffff"},
                     {"offset": 0.1923, "color": "#ffffff"}, {"offset": 0.1923, "color": "#000000"}, {"offset": 0.2308, "color": "#000000"}, {"offset": 0.2308, "color": "#ffffff"},
                     {"offset": 0.2692, "color": "#ffffff"}, {"offset": 0.2692, "color": "#000000"}, {"offset": 0.3077, "color": "#000000"}, {"offset": 0.3077, "color": "#ffffff"},
                     {"offset": 0.3462, "color": "#ffffff"}, {"offset": 0.3462, "color": "#000000"}, {"offset": 0.3846, "color": "#000000"}, {"offset": 0.3846, "color": "#ffffff"},
                     {"offset": 0.4231, "color": "#ffffff"}, {"offset": 0.4231, "color": "#000000"}, {"offset": 0.4615, "color": "#000000"}, {"offset": 0.4615, "color": "#ffffff"},
                     {"offset": 0.5, "color": "#ffffff"}, {"offset": 0.5, "color": "#000000"}, {"offset": 0.5385, "color": "#000000"}, {"offset": 0.5385, "color": "#ffffff"},
                     {"offset": 0.5769, "color": "#ffffff"}, {"offset": 0.5769, "color": "#000000"}, {"offset": 0.6154, "color": "#000000"}, {"offset": 0.6154, "color": "#ffffff"},
                     {"offset": 0.6538, "color": "#ffffff"}, {"offset": 0.6538, "color": "#000000"}, {"offset": 0.6923, "color": "#000000"}, {"offset": 0.6923, "color": "#ffffff"},
                     {"offset": 0.7308, "color": "#ffffff"}, {"offset": 0.7308, "color": "#000000"}, {"offset": 0.7692, "color": "#000000"}, {"offset": 0.7692, "color": "#ffffff"},
                     {"offset": 0.8077, "color": "#ffffff"}, {"offset": 0.8077, "color": "#000000"}, {"offset": 0.8462, "color": "#000000"}, {"offset": 0.8462, "color": "#ffffff"},
                     {"offset": 0.8846, "color": "#ffffff"}, {"offset": 0.8846, "color": "#000000"}, {"offset": 0.9231, "color": "#000000"}, {"offset": 0.9231, "color": "#ffffff"},
                     {"offset": 0.9615, "color": "#ffffff"}, {"offset": 0.9615, "color": "#000000"}]}}
        },
        {
          "transform": [{"filter": "datum.amino === 'Лейцин'"}],
          "mark": {"type": "bar", "stroke": "#262626", "strokeWidth": 1.8,
                   "fill": {"gradient": "linear", "x1": 0, "y1": 0, "x2": 0, "y2": 1, "stops": [
                    {"offset": 0, "color": "#6f6f6f"}, {"offset": 0.55, "color": "#9b9b9b"}, {"offset": 1, "color": "#7b7b7b"}]}}
        },
        {
          "transform": [{"filter": "datum.amino === 'Лизин'"}],
          "mark": {"type": "bar", "stroke": "#111111", "strokeWidth": 1.8,
                   "fill": {"gradient": "linear", "x1": 0, "y1": 0, "x2": 0, "y2": 1, "stops": [
                    {"offset": 0, "color": "#1b1b1b"}, {"offset": 0.35, "color": "#212121"}, {"offset": 0.62, "color": "#545454"}, {"offset": 0.85, "color": "#1f1f1f"}, {"offset": 1, "color": "#1b1b1b"}]}}
        },
        {
          "transform": [{"filter": "datum.amino === 'Метионин'"}],
          "mark": {"type": "bar", "stroke": "#3a3a3a", "strokeWidth": 1.8,
                   "fill": {"gradient": "linear", "x1": 0, "y1": 0, "x2": 0, "y2": 1, "stops": [
                    {"offset": 0, "color": "#c2c2c2"}, {"offset": 0.6, "color": "#e2e2e2"}, {"offset": 1, "color": "#cbcbcb"}]}}
        },
        {
          "transform": [{"filter": "datum.amino === 'Треонин'"}],
          "mark": {"type": "bar", "stroke": "#000000", "strokeWidth": 1.8,
                   "fill": {"gradient": "linear", "x1": 0, "y1": 0, "x2": 1, "y2": 0, "stops": [
                    {"offset": 0.06, "color": "#000000"}, {"offset": 0.06, "color": "#ffffff"}, {"offset": 0.1067, "color": "#ffffff"}, {"offset": 0.1067, "color": "#000000"},
                    {"offset": 0.2267, "color": "#000000"}, {"offset": 0.2267, "color": "#ffffff"}, {"offset": 0.2733, "color": "#ffffff"}, {"offset": 0.2733, "color": "#000000"},
                    {"offset": 0.3933, "color": "#000000"}, {"offset": 0.3933, "color": "#ffffff"}, {"offset": 0.44, "color": "#ffffff"}, {"offset": 0.44, "color": "#000000"},
                    {"offset": 0.56, "color": "#000000"}, {"offset": 0.56, "color": "#ffffff"}, {"offset": 0.6067, "color": "#ffffff"}, {"offset": 0.6067, "color": "#000000"},
                    {"offset": 0.7267, "color": "#000000"}, {"offset": 0.7267, "color": "#ffffff"}, {"offset": 0.7733, "color": "#ffffff"}, {"offset": 0.7733, "color": "#000000"},
                    {"offset": 0.8933, "color": "#000000"}, {"offset": 0.8933, "color": "#ffffff"}, {"offset": 0.94, "color": "#ffffff"}, {"offset": 0.94, "color": "#000000"}]}}
        },
        {
          "transform": [{"filter": "datum.amino === 'Треонин'"}],
          "mark": {"type": "bar", "stroke": "#000000", "strokeWidth": 1.8,
                   "fill": {"gradient": "linear", "x1": 0, "y1": 0, "x2": 0, "y2": 1, "stops": [
                     {"offset": 0.0164, "color": "rgba(255,255,255,0)"}, {"offset": 0.0164, "color": "#ffffff"}, {"offset": 0.0291, "color": "#ffffff"}, {"offset": 0.0291, "color": "rgba(255,255,255,0)"},
                     {"offset": 0.0618, "color": "rgba(255,255,255,0)"}, {"offset": 0.0618, "color": "#ffffff"}, {"offset": 0.0745, "color": "#ffffff"}, {"offset": 0.0745, "color": "rgba(255,255,255,0)"},
                     {"offset": 0.1073, "color": "rgba(255,255,255,0)"}, {"offset": 0.1073, "color": "#ffffff"}, {"offset": 0.12, "color": "#ffffff"}, {"offset": 0.12, "color": "rgba(255,255,255,0)"},
                     {"offset": 0.1527, "color": "rgba(255,255,255,0)"}, {"offset": 0.1527, "color": "#ffffff"}, {"offset": 0.1655, "color": "#ffffff"}, {"offset": 0.1655, "color": "rgba(255,255,255,0)"},
                     {"offset": 0.1982, "color": "rgba(255,255,255,0)"}, {"offset": 0.1982, "color": "#ffffff"}, {"offset": 0.2109, "color": "#ffffff"}, {"offset": 0.2109, "color": "rgba(255,255,255,0)"},
                     {"offset": 0.2436, "color": "rgba(255,255,255,0)"}, {"offset": 0.2436, "color": "#ffffff"}, {"offset": 0.2564, "color": "#ffffff"}, {"offset": 0.2564, "color": "rgba(255,255,255,0)"},
                     {"offset": 0.2891, "color": "rgba(255,255,255,0)"}, {"offset": 0.2891, "color": "#ffffff"}, {"offset": 0.3018, "color": "#ffffff"}, {"offset": 0.3018, "color": "rgba(255,255,255,0)"},
                     {"offset": 0.3345, "color": "rgba(255,255,255,0)"}, {"offset": 0.3345, "color": "#ffffff"}, {"offset": 0.3473, "color": "#ffffff"}, {"offset": 0.3473, "color": "rgba(255,255,255,0)"},
                     {"offset": 0.38, "color": "rgba(255,255,255,0)"}, {"offset": 0.38, "color": "#ffffff"}, {"offset": 0.3927, "color": "#ffffff"}, {"offset": 0.3927, "color": "rgba(255,255,255,0)"},
                     {"offset": 0.4255, "color": "rgba(255,255,255,0)"}, {"offset": 0.4255, "color": "#ffffff"}, {"offset": 0.4382, "color": "#ffffff"}, {"offset": 0.4382, "color": "rgba(255,255,255,0)"},
                     {"offset": 0.4709, "color": "rgba(255,255,255,0)"}, {"offset": 0.4709, "color": "#ffffff"}, {"offset": 0.4836, "color": "#ffffff"}, {"offset": 0.4836, "color": "rgba(255,255,255,0)"},
                     {"offset": 0.5164, "color": "rgba(255,255,255,0)"}, {"offset": 0.5164, "color": "#ffffff"}, {"offset": 0.5291, "color": "#ffffff"}, {"offset": 0.5291, "color": "rgba(255,255,255,0)"},
                     {"offset": 0.5618, "color": "rgba(255,255,255,0)"}, {"offset": 0.5618, "color": "#ffffff"}, {"offset": 0.5745, "color": "#ffffff"}, {"offset": 0.5745, "color": "rgba(255,255,255,0)"},
                     {"offset": 0.6073, "color": "rgba(255,255,255,0)"}, {"offset": 0.6073, "color": "#ffffff"}, {"offset": 0.62, "color": "#ffffff"}, {"offset": 0.62, "color": "rgba(255,255,255,0)"},
                     {"offset": 0.6527, "color": "rgba(255,255,255,0)"}, {"offset": 0.6527, "color": "#ffffff"}, {"offset": 0.6655, "color": "#ffffff"}, {"offset": 0.6655, "color": "rgba(255,255,255,0)"},
                     {"offset": 0.6982, "color": "rgba(255,255,255,0)"}, {"offset": 0.6982, "color": "#ffffff"}, {"offset": 0.7109, "color": "#ffffff"}, {"offset": 0.7109, "color": "rgba(255,255,255,0)"},
                     {"offset": 0.7436, "color": "rgba(255,255,255,0)"}, {"offset": 0.7436, "color": "#ffffff"}, {"offset": 0.7564, "color": "#ffffff"}, {"offset": 0.7564, "color": "rgba(255,255,255,0)"},
                     {"offset": 0.7891, "color": "rgba(255,255,255,0)"}, {"offset": 0.7891, "color": "#ffffff"}, {"offset": 0.8018, "color": "#ffffff"}, {"offset": 0.8018, "color": "rgba(255,255,255,0)"},
                     {"offset": 0.8345, "color": "rgba(255,255,255,0)"}, {"offset": 0.8345, "color": "#ffffff"}, {"offset": 0.8473, "color": "#ffffff"}, {"offset": 0.8473, "color": "rgba(255,255,255,0)"},
                     {"offset": 0.88, "color": "rgba(255,255,255,0)"}, {"offset": 0.88, "color": "#ffffff"}, {"offset": 0.8927, "color": "#ffffff"}, {"offset": 0.8927, "color": "rgba(255,255,255,0)"},
                     {"offset": 0.9255, "color": "rgba(255,255,255,0)"}, {"offset": 0.9255, "color": "#ffffff"}, {"offset": 0.9382, "color": "#ffffff"}, {"offset": 0.9382, "color": "rgba(255,255,255,0)"},
                     {"offset": 0.9709, "color": "rgba(255,255,255,0)"}, {"offset": 0.9709, "color": "#ffffff"}, {"offset": 0.9836, "color": "#ffffff"}, {"offset": 0.9836, "color": "rgba(255,255,255,0)"}]}}
        },
        {
          "transform": [{"filter": "datum.amino === 'Триптофан'"}],
          "mark": {"type": "bar", "stroke": "#000000", "strokeWidth": 1.8,
                   "fill": {"gradient": "linear", "x1": 0, "y1": 1, "x2": 0.2716, "y2": -0.169, "stops": [
                    {"offset": 0.0333, "color": "#ffffff"}, {"offset": 0.0333, "color": "#111111"}, {"offset": 0.0556, "color": "#111111"}, {"offset": 0.0556, "color": "#ffffff"},
                    {"offset": 0.0889, "color": "#ffffff"}, {"offset": 0.0889, "color": "#111111"}, {"offset": 0.1111, "color": "#111111"}, {"offset": 0.1111, "color": "#ffffff"},
                    {"offset": 0.1444, "color": "#ffffff"}, {"offset": 0.1444, "color": "#111111"}, {"offset": 0.1667, "color": "#111111"}, {"offset": 0.1667, "color": "#ffffff"},
                    {"offset": 0.2, "color": "#ffffff"}, {"offset": 0.2, "color": "#111111"}, {"offset": 0.2222, "color": "#111111"}, {"offset": 0.2222, "color": "#ffffff"},
                    {"offset": 0.2556, "color": "#ffffff"}, {"offset": 0.2556, "color": "#111111"}, {"offset": 0.2778, "color": "#111111"}, {"offset": 0.2778, "color": "#ffffff"},
                    {"offset": 0.3111, "color": "#ffffff"}, {"offset": 0.3111, "color": "#111111"}, {"offset": 0.3333, "color": "#111111"}, {"offset": 0.3333, "color": "#ffffff"},
                    {"offset": 0.3667, "color": "#ffffff"}, {"offset": 0.3667, "color": "#111111"}, {"offset": 0.3889, "color": "#111111"}, {"offset": 0.3889, "color": "#ffffff"},
                    {"offset": 0.4222, "color": "#ffffff"}, {"offset": 0.4222, "color": "#111111"}, {"offset": 0.4444, "color": "#111111"}, {"offset": 0.4444, "color": "#ffffff"},
                    {"offset": 0.4778, "color": "#ffffff"}, {"offset": 0.4778, "color": "#111111"}, {"offset": 0.5, "color": "#111111"}, {"offset": 0.5, "color": "#ffffff"},
                    {"offset": 0.5333, "color": "#ffffff"}, {"offset": 0.5333, "color": "#111111"}, {"offset": 0.5556, "color": "#111111"}, {"offset": 0.5556, "color": "#ffffff"},
                    {"offset": 0.5889, "color": "#ffffff"}, {"offset": 0.5889, "color": "#111111"}, {"offset": 0.6111, "color": "#111111"}, {"offset": 0.6111, "color": "#ffffff"},
                    {"offset": 0.6444, "color": "#ffffff"}, {"offset": 0.6444, "color": "#111111"}, {"offset": 0.6667, "color": "#111111"}, {"offset": 0.6667, "color": "#ffffff"},
                    {"offset": 0.7, "color": "#ffffff"}, {"offset": 0.7, "color": "#111111"}, {"offset": 0.7222, "color": "#111111"}, {"offset": 0.7222, "color": "#ffffff"},
                    {"offset": 0.7556, "color": "#ffffff"}, {"offset": 0.7556, "color": "#111111"}, {"offset": 0.7778, "color": "#111111"}, {"offset": 0.7778, "color": "#ffffff"},
                    {"offset": 0.8111, "color": "#ffffff"}, {"offset": 0.8111, "color": "#111111"}, {"offset": 0.8333, "color": "#111111"}, {"offset": 0.8333, "color": "#ffffff"},
                    {"offset": 0.8667, "color": "#ffffff"}, {"offset": 0.8667, "color": "#111111"}, {"offset": 0.8889, "color": "#111111"}, {"offset": 0.8889, "color": "#ffffff"},
                    {"offset": 0.9222, "color": "#ffffff"}, {"offset": 0.9222, "color": "#111111"}, {"offset": 0.9444, "color": "#111111"}, {"offset": 0.9444, "color": "#ffffff"},
                    {"offset": 0.9778, "color": "#ffffff"}, {"offset": 0.9778, "color": "#111111"}, {"offset": 1, "color": "#111111"}]}}
        },
        {
          "transform": [{"filter": "datum.amino === 'Фенилаламин'"}],
          "mark": {"type": "bar", "stroke": "#2a2a2a", "strokeWidth": 1.8,
                   "fill": {"gradient": "linear", "x1": 0, "y1": 0, "x2": 0, "y2": 1, "stops": [
                    {"offset": 0, "color": "#4b4b4b"}, {"offset": 0.5, "color": "#707070"}, {"offset": 1, "color": "#4e4e4e"}]}}
        },
        {
          "mark": {"type": "errorbar", "ticks": {"size": 12, "thickness": 1.8, "color": "#2f74bd"}, "rule": {"strokeWidth": 1.8, "color": "#2f74bd"}},
          "encoding": {"yError": {"field": "err"}}
        }
      ]
    }
  ]
}
